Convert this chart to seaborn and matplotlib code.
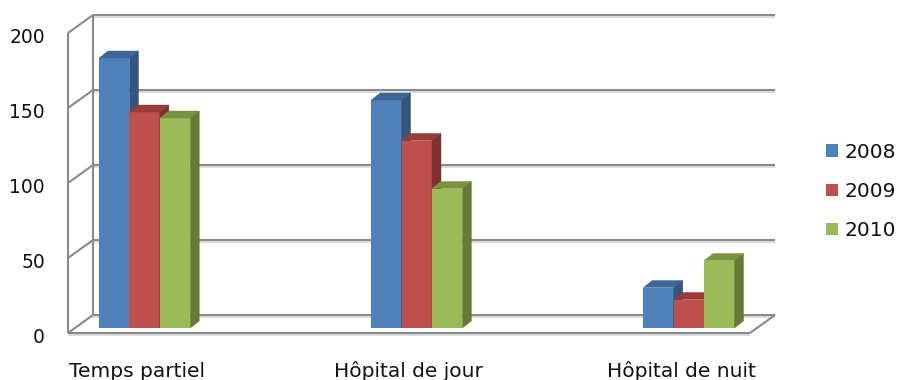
import numpy as np
import pandas as pd
import matplotlib
matplotlib.use("Agg")
import matplotlib.pyplot as plt
from matplotlib.patches import Polygon, Patch
import seaborn as sns

# --- data -------------------------------------------------------------
categories = ["Temps partiel", "Hôpital de jour", "Hôpital de nuit"]
years = ["2008", "2009", "2010"]
v2008 = [180, 152, 27]
v2009 = [144, 125, 19]
v2010 = [140, 93, 45]
y_ticks = [0, 50, 100, 150, 200]

# --- style ------------------------------------------------------------
front_colors = ["#4F81BD", "#C0504D", "#9BBB59"]
top_colors = ["#3D6595", "#983B39", "#78943F"]
side_colors = ["#34557D", "#7E3230", "#657B37"]
grid_color = "#8A8A8A"
shadow_color = "#D6D6D6"

sns.set_style("white")
plt.rcParams["font.family"] = ["DejaVu Sans"]

df = pd.DataFrame({
    "categorie": categories * 3,
    "annee": np.repeat(years, len(categories)),
    "valeur": v2008 + v2009 + v2010,
})

fig = plt.figure(figsize=(9, 3.8), dpi=100)
ax = fig.add_axes([75 / 900, 52 / 380, 682 / 900, 300 / 380])

sns.barplot(data=df, x="categorie", y="valeur", hue="annee",
            order=categories, hue_order=years, palette=front_colors,
            width=0.335, saturation=1, linewidth=0, legend=False, ax=ax)

ax.set_xlim(-0.256, 2.25)
ax.set_ylim(0, 200)
ax.set_axis_off()


def shifted(x, y, dx, dy):
    """Data points moved by (dx, dy) display pixels, returned in data units."""
    pts = ax.transData.transform(np.column_stack([np.atleast_1d(x), np.atleast_1d(y)]))
    return ax.transData.inverted().transform(pts + [dx, dy])


# pseudo-3D depth of the walls and of the bars (pixels, x right / y up)
BACK = (18, 13)
FRONT = (-7, -5)
DEPTH = (9, 7)

lo, hi = ax.get_xlim()


def line(p, color=grid_color, lw=1.5, z=1):
    ax.plot(p[:, 0], p[:, 1], color=color, lw=lw, clip_on=False,
            zorder=z, solid_capstyle="butt")


# back wall gridlines, side wall diagonals
for v in y_ticks:
    line(shifted([lo, hi], [v, v], BACK[0], BACK[1] - 2), shadow_color, 1.2, 0.8)
    line(shifted([lo, hi], [v, v], *BACK))
    diag = np.vstack([shifted(lo, v, *FRONT), shifted(lo, v, *BACK)])
    line(diag)

# vertical edges of the left wall
line(shifted([lo, lo], [0, 200], *FRONT))
line(shifted([lo, lo], [0, 200], *BACK))
# front edge and right edge of the floor
line(shifted([lo, hi], [0, 0], FRONT[0], FRONT[1] - 2), shadow_color, 1.2, 0.8)
line(shifted([lo, hi], [0, 0], *FRONT))
line(np.vstack([shifted(hi, 0, *FRONT), shifted(hi, 0, *BACK)]))

# top and side faces of each bar
all_bars = [(h, b) for h, cont in enumerate(ax.containers) for b in cont]
all_bars.sort(key=lambda hb: hb[1].get_x())
for rank, (h, bar) in enumerate(all_bars):
    z = 3 + rank * 0.01
    x0 = bar.get_x()
    x1 = x0 + bar.get_width()
    top = bar.get_height()
    bar.set_zorder(z)
    top_face = np.vstack([[x0, top], [x1, top],
                          shifted(x1, top, *DEPTH), shifted(x0, top, *DEPTH)])
    side_face = np.vstack([[x1, 0], [x1, top],
                           shifted(x1, top, *DEPTH), shifted(x1, 0, *DEPTH)])
    ax.add_patch(Polygon(top_face, closed=True, facecolor=top_colors[h],
                         edgecolor=top_colors[h], lw=0.3, zorder=z, clip_on=False))
    ax.add_patch(Polygon(side_face, closed=True, facecolor=side_colors[h],
                         edgecolor=side_colors[h], lw=0.3, zorder=z, clip_on=False))

# value axis labels
for v in y_ticks:
    p = shifted(lo, v, FRONT[0] - 23, FRONT[1] - 10)[0]
    ax.text(p[0], p[1], str(v), ha="right", va="baseline", fontsize=13.5,
            color="#111111", clip_on=False)

# category labels
for i, cat in enumerate(categories):
    p = shifted(i, 0, -8, -49)[0]
    ax.text(p[0], p[1], cat, ha="center", va="baseline", fontsize=14.5,
            color="#111111", clip_on=False)

handles = [Patch(facecolor=c, edgecolor="none") for c in front_colors]
fig.legend(handles, years, loc="center left",
           bbox_to_anchor=(826 / 900, 1 - 191.5 / 380), frameon=False,
           fontsize=14.5, handlelength=0.58, handleheight=0.58,
           handletextpad=0.33, labelspacing=1.0, borderpad=0,
           borderaxespad=0, labelcolor="#111111")

fig.savefig("out.png", dpi=100)
